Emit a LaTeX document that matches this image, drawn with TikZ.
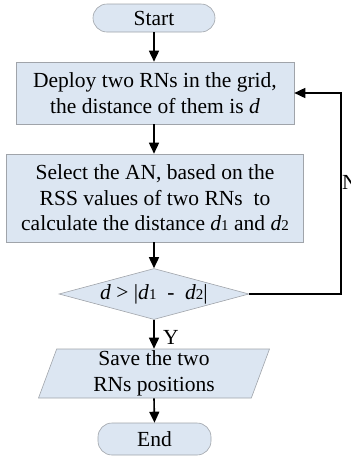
\documentclass[tikz,border=0pt]{standalone}
\usepackage{fontspec}
\setmainfont{Liberation Serif}
\usetikzlibrary{shapes.geometric,arrows.meta}
\definecolor{boxfill}{HTML}{DCE6F2}
\definecolor{boxline}{HTML}{A0A4AA}
\newcommand{\dd}[1]{\textit{d}{\fontsize{15}{15}\selectfont #1}}
\begin{document}
\begin{tikzpicture}[x=1pt,y=-1pt,
  every node/.style={font=\fontsize{21.5}{25.5}\selectfont},
  procbox/.style={draw=boxline,fill=boxfill,line width=0.6pt,rectangle,inner sep=0pt,align=center},
  termbox/.style={procbox,rounded corners=14pt},
  decbox/.style={draw=boxline,fill=boxfill,line width=0.6pt,diamond,inner sep=0pt,minimum width=190pt,minimum height=51pt,aspect=3.7},
  iobox/.style={draw=boxline,fill=boxfill,line width=0.6pt,trapezium,trapezium left angle=68,trapezium right angle=112,trapezium stretches body,inner sep=0pt,minimum width=231pt,minimum height=49pt,align=center},
  flow/.style={-{Triangle[length=11pt,width=10pt]},line width=1.6pt,black}]
\useasboundingbox (0,0) rectangle (351,456);
\node[termbox,minimum width=122pt,minimum height=28pt] (start) at (154,18) {Start};
\node[procbox,minimum width=278pt,minimum height=62pt] (b1) at (155,93) {Deploy two RNs in the grid,\\the distance of them is \textit{d}};
\node[procbox,minimum width=297pt,minimum height=88pt] (b2) at (155,198) {Select the AN, based on the\\RSS values of two RNs~ to\\calculate the distance \dd{1} and \dd{2}};
\node[decbox] (dec) at (154,294) {\textit{d} > |\dd{1}~~-~~\dd{2}|};
\node[iobox] (io) at (154,373.5) {Save the two\\RNs positions};
\node[termbox,minimum width=113pt,minimum height=32pt] (end) at (154.5,439) {End};
\coordinate (turn) at (341,294);
\draw[flow] (start.south) -- (start.south |- b1.north);
\draw[flow] (start.south |- b1.south) -- (start.south |- b2.north);
\draw[flow] (start.south |- b2.south) -- (dec.north);
\draw[flow] (dec.south) -- (io.north);
\draw[flow] (start.south |- io.south) -- (end.north);
\draw[flow] (dec.east) -- (turn) |- (b1.east);
\node[anchor=west,inner sep=0pt] (ylab) at (163,337) {Y};
\node[anchor=west,inner sep=0pt] (nlab) at (342,182) {N};
\end{tikzpicture}
\end{document}
